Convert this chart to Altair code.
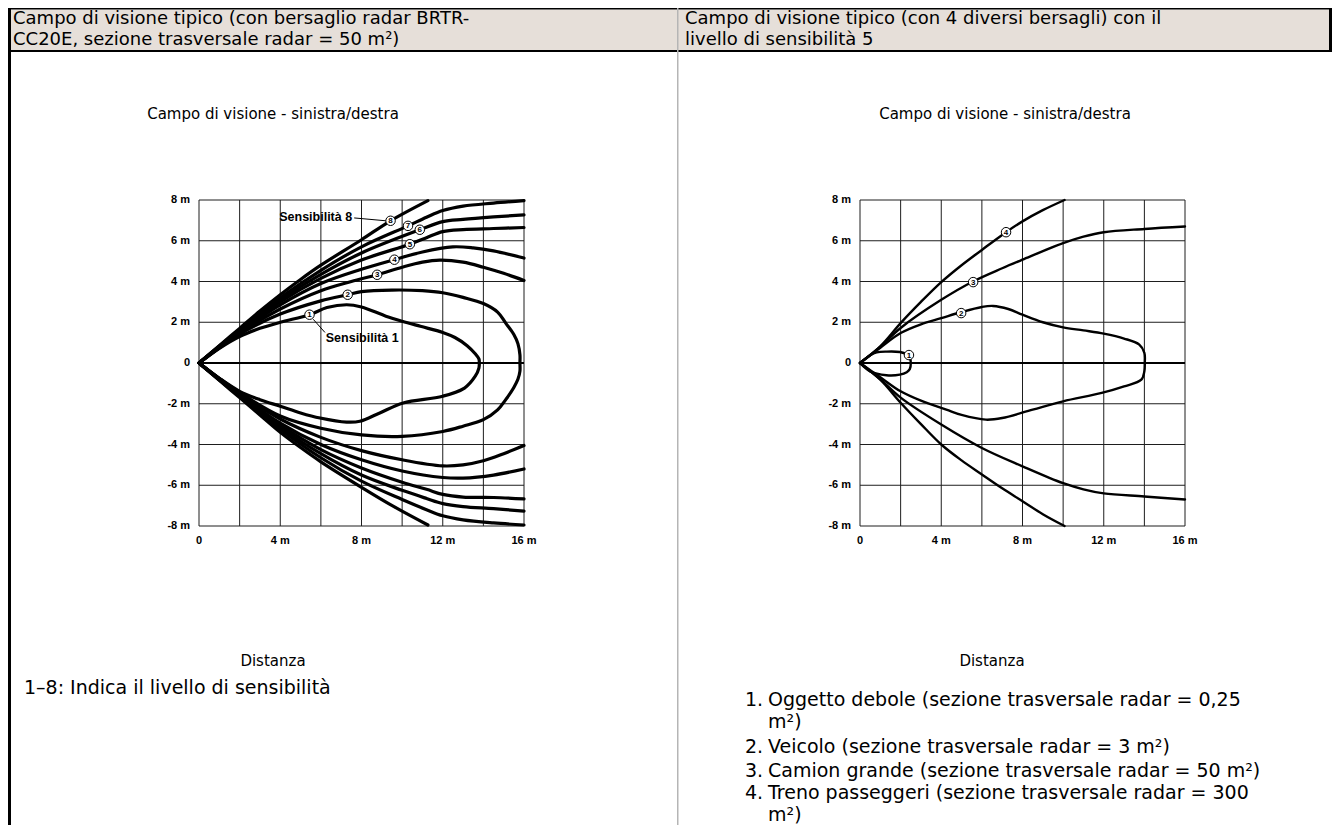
import altair as alt
import pandas as pd

# ---------------- texts ----------------
HEADER_LEFT = ["Campo di visione tipico (con bersaglio radar BRTR-",
               "CC20E, sezione trasversale radar = 50 m²)"]
HEADER_RIGHT = ["Campo di visione tipico (con 4 diversi bersagli) con il",
                "livello di sensibilità 5"]
SUBTITLE = "Campo di visione - sinistra/destra"
XTITLE = "Distanza"
NOTE_LEFT = "1–8: Indica il livello di sensibilità"
LIST_NUMS = ["1.", "", "2.", "3.", "4.", ""]
LIST_TEXT = ["Oggetto debole (sezione trasversale radar = 0,25",
             "m²)",
             "Veicolo (sezione trasversale radar = 3 m²)",
             "Camion grande (sezione trasversale radar = 50 m²)",
             "Treno passeggeri (sezione trasversale radar = 300",
             "m²)"]

# ---------------- axes ----------------
GRID_X = [0, 2, 4, 6, 8, 10, 12, 14, 16]
GRID_Y = [-8, -6, -4, -2, 0, 2, 4, 6, 8]
XTICK_VALUES = [0, 4, 8, 12, 16]
XTICK_LABELS = ["0", "4 m", "8 m", "12 m", "16 m"]
YTICK_VALUES = [8, 6, 4, 2, 0, -2, -4, -6, -8]
YTICK_LABELS = ["8 m", "6 m", "4 m", "2 m", "0", "-2 m", "-4 m", "-6 m", "-8 m"]

# ---------------- left chart: sensitivity 1..8 ----------------
S1_UX = [0, 1, 2, 3, 4, 5.44, 6.3, 7.27, 8.0, 9.2, 10.0, 10.9, 12.0, 12.6, 13.2, 13.6, 13.78, 13.8]
S1_UY = [0, 0.72, 1.3, 1.7, 2.0, 2.37, 2.72, 2.86, 2.75, 2.3, 2.05, 1.8, 1.5, 1.25, 0.85, 0.45, 0.2, 0]
S1_LX = [0, 1, 2, 3, 4, 5, 5.96, 7.27, 7.92, 8.9, 10.05, 12.0, 13.07, 13.6, 13.78, 13.8]
S1_LY = [0, -0.75, -1.39, -1.8, -2.12, -2.45, -2.7, -2.9, -2.86, -2.45, -1.96, -1.63, -1.23, -0.65, -0.25, 0]

S2_UX = [0, 1, 2, 4, 6, 7.32, 8, 9.5, 11, 12, 13, 14, 14.7, 15.1, 15.5, 15.7, 15.8, 15.8]
S2_UY = [0, 0.74, 1.42, 2.4, 3.05, 3.35, 3.5, 3.58, 3.55, 3.45, 3.22, 2.92, 2.5, 1.96, 1.4, 0.95, 0.4, 0]
S2_LX = [0, 1, 2, 4, 6, 8, 10, 12, 13, 14, 14.7, 15.1, 15.5, 15.7, 15.8, 15.8]
S2_LY = [0, -0.76, -1.45, -2.6, -3.2, -3.53, -3.6, -3.36, -3.1, -2.78, -2.3, -1.8, -1.2, -0.8, -0.4, 0]

S3_UX = [0, 1, 2, 4, 6, 7.5, 8.77, 10, 11, 11.85, 13, 14, 15, 16]
S3_UY = [0, 0.76, 1.47, 2.65, 3.55, 4.0, 4.33, 4.7, 4.95, 5.05, 4.95, 4.7, 4.4, 4.05]
S3_LX = [0, 1, 2, 4, 6, 8, 10, 12, 13, 14, 15, 16]
S3_LY = [0, -0.76, -1.5, -2.75, -3.65, -4.3, -4.75, -5.05, -5.0, -4.8, -4.45, -4.05]

S4_UX = [0, 1, 2, 4, 6, 8, 9.62, 11, 12.5, 13.5, 14.5, 16]
S4_UY = [0, 0.78, 1.52, 2.85, 3.9, 4.6, 5.07, 5.45, 5.7, 5.65, 5.5, 5.15]
S4_LX = [0, 1, 2, 4, 6, 8, 10, 12, 13, 14.5, 16]
S4_LY = [0, -0.78, -1.55, -2.95, -4.0, -4.75, -5.3, -5.62, -5.65, -5.5, -5.2]

S5_UX = [0, 1, 2, 4, 6, 8, 10.38, 11.2, 12, 13, 14.5, 16]
S5_UY = [0, 0.8, 1.57, 3.0, 4.15, 5.05, 5.83, 6.15, 6.45, 6.55, 6.6, 6.65]
S5_LX = [0, 1, 2, 4, 6, 8, 10, 11.2, 12, 13, 14.5, 16]
S5_LY = [0, -0.8, -1.58, -3.05, -4.25, -5.15, -5.85, -6.2, -6.45, -6.58, -6.6, -6.67]

S6_UX = [0, 1, 2, 4, 6, 8, 10.87, 12, 13, 14.5, 16]
S6_UY = [0, 0.82, 1.6, 3.1, 4.35, 5.4, 6.54, 6.94, 7.05, 7.17, 7.27]
S6_LX = [0, 1, 2, 4, 6, 8, 10, 11.2, 12, 13, 14.5, 16]
S6_LY = [0, -0.82, -1.6, -3.15, -4.45, -5.5, -6.25, -6.65, -6.9, -7.05, -7.15, -7.27]

S7_UX = [0, 1, 2, 4, 6, 8, 10.29, 11.2, 12, 13, 14.5, 16]
S7_UY = [0, 0.83, 1.65, 3.2, 4.55, 5.7, 6.73, 7.15, 7.48, 7.7, 7.85, 7.97]
S7_LX = [0, 1, 2, 4, 6, 8, 10, 11.2, 12, 13, 14.5, 16]
S7_LY = [0, -0.83, -1.65, -3.25, -4.65, -5.8, -6.7, -7.2, -7.5, -7.7, -7.85, -7.95]

S8_UX = [0, 1, 2, 3, 4, 5, 6, 8, 9.43, 11.27]
S8_UY = [0, 0.85, 1.7, 2.55, 3.35, 4.1, 4.8, 6.05, 6.98, 7.97]
S8_LX = [0, 1, 2, 3, 4, 5, 6, 8, 9.6, 11.27]
S8_LY = [0, -0.85, -1.7, -2.55, -3.4, -4.15, -4.85, -6.1, -7.05, -7.95]

LEFT_MARK_N = ["1", "2", "3", "4", "5", "6", "7", "8"]
LEFT_MARK_X = [5.44, 7.32, 8.77, 9.62, 10.38, 10.87, 10.29, 9.43]
LEFT_MARK_Y = [2.37, 3.35, 4.33, 5.07, 5.83, 6.54, 6.73, 6.98]

SENS_LABELS = ["Sensibilità 8", "Sensibilità 1"]
SENS_LABEL_X = [7.54, 6.24]
SENS_LABEL_Y = [7.17, 1.24]
LEADER_X1 = [7.64, 5.62]
LEADER_Y1 = [7.12, 2.15]
LEADER_X2 = [9.2, 6.2]
LEADER_Y2 = [6.98, 1.5]

# ---------------- right chart: 4 targets ----------------
R1_UX = [0, 0.5, 0.82, 1.3, 1.96, 2.3, 2.45, 2.5]
R1_UY = [0, 0.38, 0.52, 0.56, 0.54, 0.42, 0.25, 0]
R1_LX = [0, 0.49, 1.3, 1.96, 2.3, 2.45, 2.5]
R1_LY = [0, -0.41, -0.6, -0.57, -0.45, -0.3, 0]

R2_UX = [0, 1, 2, 3, 4, 4.96, 6, 6.55, 7.3, 8, 9, 10, 11, 12, 13, 13.75, 14.0, 14.02]
R2_UY = [0, 0.75, 1.47, 1.9, 2.2, 2.49, 2.75, 2.8, 2.65, 2.37, 2.0, 1.75, 1.6, 1.44, 1.2, 0.9, 0.5, 0]
R2_LX = [0, 1, 2, 3, 4.25, 5, 6.2, 7, 8.5, 10, 11.9, 13, 13.85, 14.0, 14.02]
R2_LY = [0, -0.7, -1.39, -1.85, -2.29, -2.55, -2.78, -2.7, -2.29, -1.88, -1.47, -1.15, -0.82, -0.4, 0]

R3_UX = [0, 1, 2, 4, 5.56, 7, 8, 10, 11, 12, 14, 16]
R3_UY = [0, 0.8, 1.72, 3.1, 4.0, 4.65, 5.07, 5.88, 6.2, 6.42, 6.58, 6.7]
R3_LX = [0, 1, 2, 4, 6, 8, 10, 11, 12, 14, 16]
R3_LY = [0, -0.8, -1.7, -3.02, -4.17, -5.07, -5.9, -6.2, -6.4, -6.55, -6.7]

R4_UX = [0, 1, 2, 3, 4, 5, 6, 7.19, 8, 9, 10.07]
R4_UY = [0, 0.82, 1.96, 3.0, 3.97, 4.8, 5.55, 6.42, 6.95, 7.5, 8.0]
R4_LX = [0, 1, 2, 3, 4, 5, 6, 7, 8, 9, 10.07]
R4_LY = [0, -0.82, -1.95, -3.0, -4.0, -4.78, -5.47, -6.15, -6.78, -7.42, -8.0]

RIGHT_MARK_N = ["1", "2", "3", "4"]
RIGHT_MARK_X = [2.41, 4.98, 5.57, 7.19]
RIGHT_MARK_Y = [0.39, 2.45, 3.97, 6.42]

# ---------------- layout / style ----------------
W = 662
H = 817
BEIGE = "#e6dfd9"
TEXT_FONT = "DejaVu Sans"
AX_FONT = "Liberation Sans"
HDR_SIZE = 18
BODY_SIZE = 19
SUB_SIZE = 15
ONE = pd.DataFrame({"k": [0]})


def curve_table(curves):
    rows = []
    for name, (ux, uy, lx, ly, closed) in curves.items():
        if closed:
            xs = ux + lx[::-1][1:]
            ys = uy + ly[::-1][1:]
            for i, (a, b) in enumerate(zip(xs, ys)):
                rows.append(dict(branch=name + "-loop", i=i, x=a, y=b))
        else:
            for i, (a, b) in enumerate(zip(ux, uy)):
                rows.append(dict(branch=name + "-u", i=i, x=a, y=b))
            for i, (a, b) in enumerate(zip(lx, ly)):
                rows.append(dict(branch=name + "-l", i=i, x=a, y=b))
    return pd.DataFrame(rows)


LEFT_CURVES = curve_table({
    "S1": (S1_UX, S1_UY, S1_LX, S1_LY, True),
    "S2": (S2_UX, S2_UY, S2_LX, S2_LY, True),
    "S3": (S3_UX, S3_UY, S3_LX, S3_LY, False),
    "S4": (S4_UX, S4_UY, S4_LX, S4_LY, False),
    "S5": (S5_UX, S5_UY, S5_LX, S5_LY, False),
    "S6": (S6_UX, S6_UY, S6_LX, S6_LY, False),
    "S7": (S7_UX, S7_UY, S7_LX, S7_LY, False),
    "S8": (S8_UX, S8_UY, S8_LX, S8_LY, False),
})
RIGHT_CURVES = curve_table({
    "R1": (R1_UX, R1_UY, R1_LX, R1_LY, True),
    "R2": (R2_UX, R2_UY, R2_LX, R2_LY, True),
    "R3": (R3_UX, R3_UY, R3_LX, R3_LY, False),
    "R4": (R4_UX, R4_UY, R4_LX, R4_LY, False),
})


def rect(x1, x2, y1, y2, color):
    return alt.Chart(ONE).mark_rect(color=color).encode(
        x=alt.value(x1), x2=alt.value(x2), y=alt.value(y1), y2=alt.value(y2))


def label(text, x, y, size, align="left", font=TEXT_FONT, weight="normal"):
    return alt.Chart(ONE).mark_text(
        text=text, align=align, baseline="middle", font=font,
        fontSize=size, fontWeight=weight, color="black"
    ).encode(x=alt.value(x), y=alt.value(y))


def plot_layers(curves, mark_n, mark_x, mark_y, xr, yr, ylab_x, xlab_y, sw, msize, extra=True):
    xs = alt.Scale(domain=[0, 16], range=xr, nice=False, zero=False)
    ys = alt.Scale(domain=[-8, 8], range=yr, nice=False, zero=False)

    def X(f):
        return alt.X(f, type="quantitative", scale=xs, axis=None)

    def Y(f):
        return alt.Y(f, type="quantitative", scale=ys, axis=None)

    grid_col = "#1e1e1e"
    vg = alt.Chart(pd.DataFrame({"g": GRID_X, "lo": -8, "hi": 8})).mark_rule(
        color=grid_col, strokeWidth=1).encode(x=X("g"), y=Y("lo"), y2="hi")
    hg = alt.Chart(pd.DataFrame({"g": GRID_Y, "lo": 0, "hi": 16})).mark_rule(
        color=grid_col, strokeWidth=1).encode(y=Y("g"), x=X("lo"), x2="hi")
    z = alt.Chart(pd.DataFrame({"g": [0], "lo": [0], "hi": [16]})).mark_rule(
        color="black", strokeWidth=2).encode(y=Y("g"), x=X("lo"), x2="hi")
    ln = alt.Chart(curves).mark_line(
        interpolate="catmull-rom", strokeWidth=sw, color="black",
        strokeCap="round", strokeJoin="round"
    ).encode(x=X("x"), y=Y("y"), detail="branch:N", order="i:Q")
    mk = pd.DataFrame({"n": mark_n, "x": mark_x, "y": mark_y})
    circ = alt.Chart(mk).mark_point(
        shape="circle", filled=True, fill="white", stroke="black",
        strokeWidth=1, size=msize, opacity=1
    ).encode(x=X("x"), y=Y("y"))
    num = alt.Chart(mk).mark_text(
        font=AX_FONT, fontSize=8, fontWeight="bold", color="black",
        align="center", baseline="middle", dy=0.5
    ).encode(x=X("x"), y=Y("y"), text="n:N")
    ylab = alt.Chart(pd.DataFrame({"v": YTICK_VALUES, "t": YTICK_LABELS})).mark_text(
        font=AX_FONT, fontSize=11, fontWeight="bold", align="right", baseline="middle", color="black"
    ).encode(x=alt.value(ylab_x), y=Y("v"), text="t:N")
    xlab = alt.Chart(pd.DataFrame({"v": XTICK_VALUES, "t": XTICK_LABELS})).mark_text(
        font=AX_FONT, fontSize=11, fontWeight="bold", align="center", baseline="middle", color="black"
    ).encode(x=X("v"), y=alt.value(xlab_y), text="t:N")
    layers = [vg, hg, z, ln]
    if extra:
        sl = pd.DataFrame({"t": SENS_LABELS, "x": SENS_LABEL_X, "y": SENS_LABEL_Y,
                           "x1": LEADER_X1, "y1": LEADER_Y1, "x2": LEADER_X2, "y2": LEADER_Y2})
        lead = alt.Chart(sl).mark_rule(color="black", strokeWidth=1).encode(
            x=X("x1"), y=Y("y1"), x2="x2", y2="y2")
        st_r = alt.Chart(sl.iloc[[0]]).mark_text(
            font=AX_FONT, fontSize=12.5, fontWeight="bold", align="right", baseline="middle", color="black"
        ).encode(x=X("x"), y=Y("y"), text="t:N")
        st_l = alt.Chart(sl.iloc[[1]]).mark_text(
            font=AX_FONT, fontSize=12.5, fontWeight="bold", align="left", baseline="middle", color="black"
        ).encode(x=X("x"), y=Y("y"), text="t:N")
        layers += [lead, st_r, st_l]
    layers += [circ, num, ylab, xlab]
    return layers


# ---------------- left column (local = page - 8) ----------------
left_layers = [
    rect(0, W, 1.5, 42, BEIGE),
    rect(0, W, 0, 1.5, "black"),
    rect(0, W, 42, 44, "black"),
    rect(0, 3, 0, H, "black"),
    label(HEADER_LEFT[0], 5, 11, HDR_SIZE),
    label(HEADER_LEFT[1], 5, 32, HDR_SIZE),
    label(SUBTITLE, 265, 106, SUB_SIZE, align="center"),
    label(XTITLE, 265, 653, SUB_SIZE, align="center"),
    label(NOTE_LEFT, 16, 680, BODY_SIZE),
] + plot_layers(LEFT_CURVES, LEFT_MARK_N, LEFT_MARK_X, LEFT_MARK_Y,
                [191, 516], [518, 192], 182, 533, 3.2, 90, extra=True)

left = alt.layer(*left_layers).properties(width=W, height=H)

# ---------------- right column ----------------
LIST_Y = [692, 714, 739, 763, 785, 807]
right_layers = [
    rect(0, W, 1.5, 42, BEIGE),
    rect(0, W, 0, 1.5, "black"),
    rect(0, W, 42, 44, "black"),
    rect(659, W, 0, 44, "black"),
    rect(7, 8.5, 0, H, "#b5b5b5"),
    label(HEADER_RIGHT[0], 15, 11, HDR_SIZE),
    label(HEADER_RIGHT[1], 15, 32, HDR_SIZE),
    label(SUBTITLE, 335, 106, SUB_SIZE, align="center"),
    label(XTITLE, 322, 653, SUB_SIZE, align="center"),
]
for n, t, yy in zip(LIST_NUMS, LIST_TEXT, LIST_Y):
    if n:
        right_layers.append(label(n, 75, yy, BODY_SIZE))
    right_layers.append(label(t, 98, yy, BODY_SIZE))
right_layers += plot_layers(RIGHT_CURVES, RIGHT_MARK_N, RIGHT_MARK_X, RIGHT_MARK_Y,
                            [190, 515], [518, 192], 181, 533, 2.4, 90, extra=False)

right = alt.layer(*right_layers).properties(width=W, height=H)

chart = alt.hconcat(left, right, spacing=0).properties(
    padding=0, background="white"
).configure_view(stroke=None)

chart.save("out.html", embed_options={"renderer": "svg", "actions": False})
